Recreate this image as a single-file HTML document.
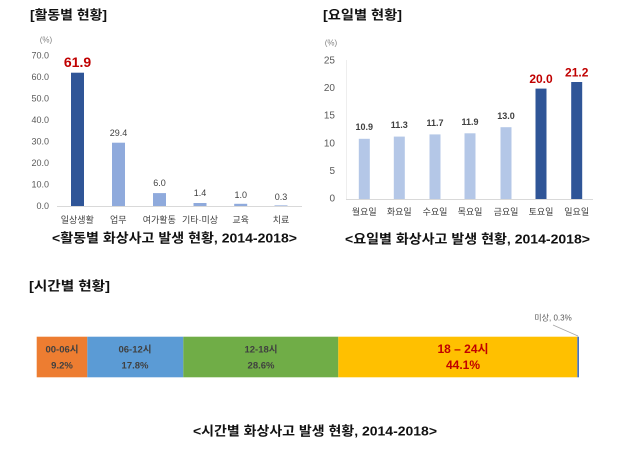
<!DOCTYPE html>
<html><head><meta charset="utf-8">
<style>
html,body{margin:0;padding:0;background:#fff;}
svg{display:block;font-family:"Liberation Sans","Noto Sans CJK KR",sans-serif;}
</style></head>
<body>
<svg width="640" height="461" viewBox="0 0 640 461" xmlns="http://www.w3.org/2000/svg">
<rect width="640" height="461" fill="#fff"/>

<!-- ===== Left chart ===== -->
<text x="30" y="15" dominant-baseline="central" font-size="13" font-weight="bold" fill="#111" textLength="77" lengthAdjust="spacingAndGlyphs">[활동별 현황]</text>
<text x="46" y="40" dominant-baseline="central" font-size="8" fill="#7f7f7f" text-anchor="middle">(%)</text>
<g font-size="9" fill="#595959" text-anchor="end" dominant-baseline="central">
<text x="49" y="206">0.0</text>
<text x="49" y="184.5">10.0</text>
<text x="49" y="163">20.0</text>
<text x="49" y="141.4">30.0</text>
<text x="49" y="119.9">40.0</text>
<text x="49" y="98.4">50.0</text>
<text x="49" y="76.8">60.0</text>
<text x="49" y="55.3">70.0</text>
</g>
<line x1="57" y1="206.5" x2="302" y2="206.5" stroke="#d9d9d9" stroke-width="1"/>
<rect x="71" y="72.7" width="13" height="133.3" fill="#2f5597"/>
<rect x="112" y="142.7" width="13" height="63.3" fill="#8faadc"/>
<rect x="153" y="193.1" width="13" height="12.9" fill="#8faadc"/>
<rect x="193.5" y="203" width="13" height="3" fill="#8faadc"/>
<rect x="234.2" y="203.8" width="13" height="2.2" fill="#8faadc"/>
<rect x="274.5" y="205.4" width="13" height="0.6" fill="#8faadc"/>
<text x="77.5" y="62" text-anchor="middle" dominant-baseline="central" font-size="14" font-weight="bold" fill="#c00000">61.9</text>
<g font-size="9" fill="#404040" text-anchor="middle" dominant-baseline="central">
<text x="118.5" y="133">29.4</text>
<text x="159.5" y="183">6.0</text>
<text x="200" y="193">1.4</text>
<text x="240.7" y="195">1.0</text>
<text x="281" y="197">0.3</text>
</g>
<g font-size="9" fill="#404040" text-anchor="middle" dominant-baseline="central">
<text x="77.3" y="220">일상생활</text>
<text x="118.3" y="220">업무</text>
<text x="159.3" y="220">여가활동</text>
<text x="200" y="220">기타·미상</text>
<text x="240.7" y="220">교육</text>
<text x="281" y="220">치료</text>
</g>
<text x="52" y="238" dominant-baseline="central" font-size="13" font-weight="bold" fill="#111" textLength="245" lengthAdjust="spacingAndGlyphs">&lt;활동별 화상사고 발생 현황, 2014-2018&gt;</text>

<!-- ===== Right chart ===== -->
<text x="323" y="15" dominant-baseline="central" font-size="13" font-weight="bold" fill="#111" textLength="79" lengthAdjust="spacingAndGlyphs">[요일별 현황]</text>
<text x="331" y="43" dominant-baseline="central" font-size="8" fill="#7f7f7f" text-anchor="middle">(%)</text>
<g font-size="10" fill="#595959" text-anchor="end" dominant-baseline="central">
<text x="335" y="199">0</text>
<text x="335" y="171.4">5</text>
<text x="335" y="143.8">10</text>
<text x="335" y="116.2">15</text>
<text x="335" y="88.6">20</text>
<text x="335" y="61">25</text>
</g>
<line x1="346.5" y1="60" x2="346.5" y2="199" stroke="#eeeeee" stroke-width="1"/>
<line x1="346" y1="199.5" x2="593" y2="199.5" stroke="#d9d9d9" stroke-width="1"/>
<g fill="#b4c7e7">
<rect x="358.8" y="138.8" width="11" height="60.2"/>
<rect x="393.8" y="136.6" width="11" height="62.4"/>
<rect x="429.5" y="134.4" width="11" height="64.6"/>
<rect x="464.5" y="133.3" width="11" height="65.7"/>
<rect x="500.5" y="127.2" width="11" height="71.8"/>
</g>
<g fill="#2f5597">
<rect x="535.5" y="88.6" width="11" height="110.4"/>
<rect x="571.2" y="82" width="11" height="117"/>
</g>
<g font-size="9" font-weight="bold" fill="#404040" text-anchor="middle" dominant-baseline="central">
<text x="364.3" y="127">10.9</text>
<text x="399.3" y="125">11.3</text>
<text x="435" y="123">11.7</text>
<text x="470" y="122">11.9</text>
<text x="506" y="116">13.0</text>
</g>
<g font-size="12" font-weight="bold" fill="#c00000" text-anchor="middle" dominant-baseline="central">
<text x="541" y="79">20.0</text>
<text x="576.7" y="72.5">21.2</text>
</g>
<g font-size="9" fill="#404040" text-anchor="middle" dominant-baseline="central">
<text x="364.3" y="212">월요일</text>
<text x="399.3" y="212">화요일</text>
<text x="435" y="212">수요일</text>
<text x="470" y="212">목요일</text>
<text x="506" y="212">금요일</text>
<text x="541" y="212">토요일</text>
<text x="576.7" y="212">일요일</text>
</g>
<text x="345" y="239" dominant-baseline="central" font-size="13" font-weight="bold" fill="#111" textLength="245" lengthAdjust="spacingAndGlyphs">&lt;요일별 화상사고 발생 현황, 2014-2018&gt;</text>

<!-- ===== Bottom chart ===== -->
<text x="29" y="286" dominant-baseline="central" font-size="13" font-weight="bold" fill="#111" textLength="81" lengthAdjust="spacingAndGlyphs">[시간별 현황]</text>
<rect x="36.7" y="336.7" width="50.6" height="40.6" fill="#ed7d31"/>
<rect x="87.3" y="336.7" width="96" height="40.6" fill="#5b9bd5"/>
<rect x="183.3" y="336.7" width="155" height="40.6" fill="#70ad47"/>
<rect x="338.3" y="336.7" width="239" height="40.6" fill="#ffc000"/>
<rect x="577.3" y="336.7" width="1.7" height="40.6" fill="#4472c4"/>
<g font-size="9.5" font-weight="bold" fill="#404040" text-anchor="middle" dominant-baseline="central">
<text x="62" y="350">00-06시</text>
<text x="62" y="366">9.2%</text>
<text x="135" y="350">06-12시</text>
<text x="135" y="366">17.8%</text>
<text x="261" y="350">12-18시</text>
<text x="261" y="366">28.6%</text>
</g>
<g font-size="12" font-weight="bold" fill="#c00000" text-anchor="middle" dominant-baseline="central">
<text x="463" y="349">18 – 24시</text>
<text x="463" y="365">44.1%</text>
</g>
<text x="553" y="318" text-anchor="middle" dominant-baseline="central" font-size="8" fill="#595959">미상, 0.3%</text>
<line x1="553" y1="325" x2="578" y2="336" stroke="#a6a6a6" stroke-width="0.8"/>
<text x="193" y="431" dominant-baseline="central" font-size="13" font-weight="bold" fill="#111" textLength="244" lengthAdjust="spacingAndGlyphs">&lt;시간별 화상사고 발생 현황, 2014-2018&gt;</text>
</svg>
</body></html>
